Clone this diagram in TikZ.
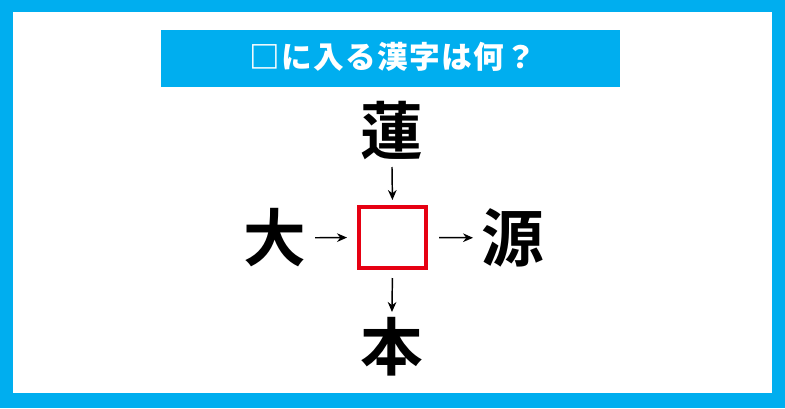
\documentclass[tikz,border=0pt]{standalone}
\usepackage{fontspec}
\newfontfamily\cjkb{Noto Sans CJK JP}[UprightFont=* Bold]
\newfontfamily\cjkk{Noto Sans CJK JP}[UprightFont=* Black]
\usetikzlibrary{arrows.meta}
\definecolor{skyblue}{RGB}{0,174,239}
\definecolor{boxred}{RGB}{230,0,18}
\tikzset{
  bigchar/.style={inner sep=0pt, font=\cjkb\fontsize{47pt}{47pt}\selectfont, text=black},
  qbox/.style={draw=boxred, line width=3pt, minimum width=50.25pt, minimum height=45.75pt, inner sep=0pt, fill=white},
  conn/.style={-{Stealth[length=7.5pt,width=6.5pt]}, line width=1.1pt, black},
  titletext/.style={inner sep=0pt, text=white, font=\cjkk\fontsize{23pt}{23pt}\selectfont}
}
\newcommand{\gp}{\hspace{1pt}}
\begin{document}
\begin{tikzpicture}[x=0.75pt,y=-0.75pt]
\useasboundingbox (0,0) rectangle (785,408);
\fill[skyblue] (0,0) rectangle (785,408);
\fill[white] (13,12) rectangle (772,393);
\fill[skyblue] (161,30) rectangle (620,87);
\node[titletext] (title) at (392.5,57) {□\gp に\gp 入\gp る\gp 漢\gp 字\gp は\gp 何\gp ？};
\node[qbox] (box) at (392.5,237.5) {};
\node[bigchar] (ren) at (391.5,131) {蓮};
\node[bigchar] (dai) at (274.5,238) {大};
\node[bigchar] (gen) at (512.5,238) {源};
\node[bigchar] (hon) at (391.5,346.5) {本};
\draw[conn, shorten <=27pt, shorten >=3.75pt] (ren.center) -- (box.north);
\draw[conn, shorten <=6pt, shorten >=25.9pt] (box.south) -- (hon.center);
\draw[conn, shorten <=30.4pt, shorten >=7.5pt] (dai.center) -- (box.west);
\draw[conn, shorten <=8.25pt, shorten >=29.6pt] (box.east) -- (gen.center);
\end{tikzpicture}
\end{document}
